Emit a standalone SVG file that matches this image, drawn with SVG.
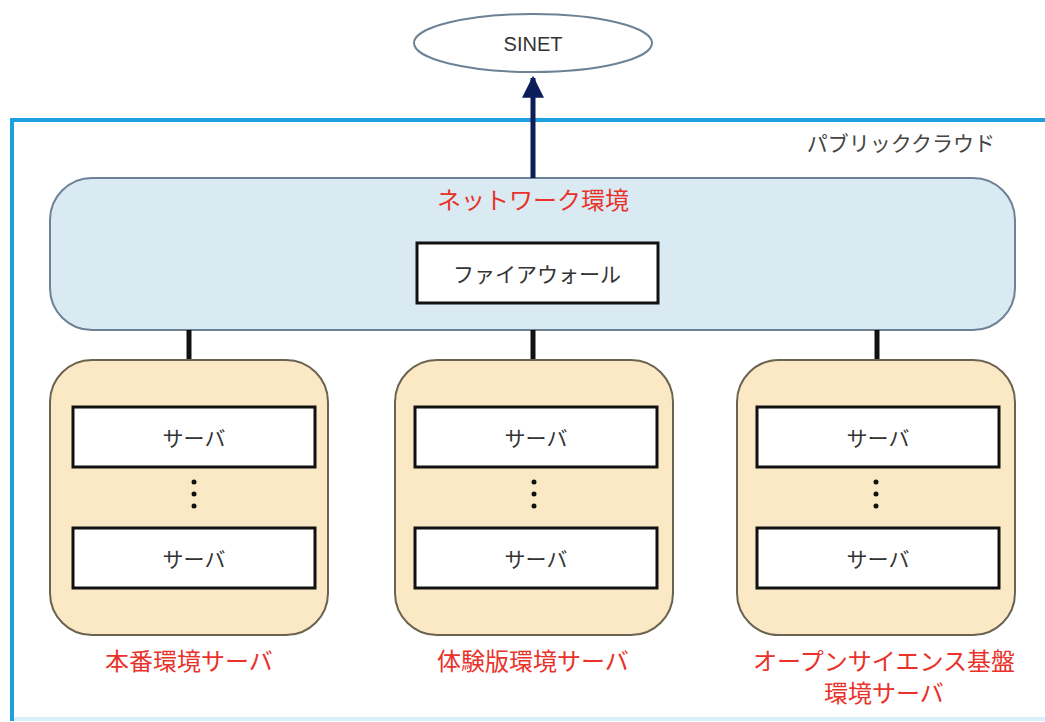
<svg xmlns="http://www.w3.org/2000/svg" width="1045" height="722" viewBox="0 0 1045 722">
<style>
.jp{font-family:"Noto Sans CJK JP","Noto Sans CJK SC",sans-serif;}
.in{fill:#333;font-size:21px;text-anchor:middle;dominant-baseline:central;}
.red{fill:#e8322a;font-size:24px;text-anchor:middle;dominant-baseline:central;}
.grp{fill:#fbe9c6;stroke:#6b6350;stroke-width:2;}
.srv{fill:#fff;stroke:#111;stroke-width:3;}
.link{stroke:#111;stroke-width:5;}
.dot{fill:#111;}
</style>
<defs>
<marker id="ah" viewBox="0 0 10 10" refX="9" refY="5" markerWidth="4.4" markerHeight="4.4" orient="auto" markerUnits="strokeWidth">
<path d="M0,0 L10,5 L0,10 z" fill="#0c1d5a"/>
</marker>
</defs>
<rect width="1045" height="722" fill="#fff"/>
<g id="cloud">
<line x1="12" y1="719" x2="1045" y2="719" stroke="#d6f1fb" stroke-width="4"/>
<path d="M12,721 L12,120 L1045,120" fill="none" stroke="#1e9fe0" stroke-width="4"/>
<text class="jp" x="995" y="142" fill="#444" font-size="21" text-anchor="end" dominant-baseline="central">パブリッククラウド</text>
</g>
<g id="sinet">
<ellipse cx="533" cy="43" rx="119" ry="29" fill="#fff" stroke="#6d8296" stroke-width="2"/>
<text x="533" y="44" font-family="Liberation Sans, Arial, sans-serif" font-size="20" fill="#333" text-anchor="middle" dominant-baseline="central">SINET</text>
</g>
<g id="network">
<rect x="50" y="178" width="965" height="152" rx="42" ry="42" fill="#daeaf3" stroke="#6d8296" stroke-width="2"/>
<text class="jp red" x="533" y="198" font-size="22">ネットワーク環境</text>
</g>
<g id="firewall">
<rect class="srv" x="417" y="243" width="241" height="60"/>
<text class="jp in" x="537" y="273" font-size="22">ファイアウォール</text>
</g>
<g id="connectors">
<line x1="533" y1="178" x2="533" y2="78" stroke="#0c1d5a" stroke-width="5" marker-end="url(#ah)"/>
<line class="link" x1="189" y1="330" x2="189" y2="360"/>
<line class="link" x1="533" y1="330" x2="533" y2="360"/>
<line class="link" x1="877" y1="330" x2="877" y2="360"/>
</g>
<g id="prod">
<rect class="grp" x="50" y="360" width="278" height="275" rx="42" ry="42"/>
<rect class="srv" x="73" y="407" width="242" height="60"/>
<text class="jp in" x="194" y="437">サーバ</text>
<circle class="dot" cx="194" cy="482" r="2.5"/><circle class="dot" cx="194" cy="494" r="2.5"/><circle class="dot" cx="194" cy="506" r="2.5"/>
<rect class="srv" x="73" y="528" width="242" height="60"/>
<text class="jp in" x="194" y="558">サーバ</text>
<text class="jp red" x="189" y="659" font-size="25">本番環境サーバ</text>
</g>
<g id="trial">
<rect class="grp" x="395" y="360" width="278" height="275" rx="42" ry="42"/>
<rect class="srv" x="415" y="407" width="242" height="60"/>
<text class="jp in" x="536" y="437">サーバ</text>
<circle class="dot" cx="534" cy="482" r="2.5"/><circle class="dot" cx="534" cy="494" r="2.5"/><circle class="dot" cx="534" cy="506" r="2.5"/>
<rect class="srv" x="415" y="528" width="242" height="60"/>
<text class="jp in" x="536" y="558">サーバ</text>
<text class="jp red" x="533" y="659">体験版環境サーバ</text>
</g>
<g id="openscience">
<rect class="grp" x="737" y="360" width="278" height="275" rx="42" ry="42"/>
<rect class="srv" x="757" y="407" width="242" height="60"/>
<text class="jp in" x="878" y="437">サーバ</text>
<circle class="dot" cx="876" cy="482" r="2.5"/><circle class="dot" cx="876" cy="494" r="2.5"/><circle class="dot" cx="876" cy="506" r="2.5"/>
<rect class="srv" x="757" y="528" width="242" height="60"/>
<text class="jp in" x="878" y="558">サーバ</text>
<text class="jp red" x="884" y="659">オープンサイエンス基盤</text>
<text class="jp red" x="884" y="691">環境サーバ</text>
</g>
</svg>
